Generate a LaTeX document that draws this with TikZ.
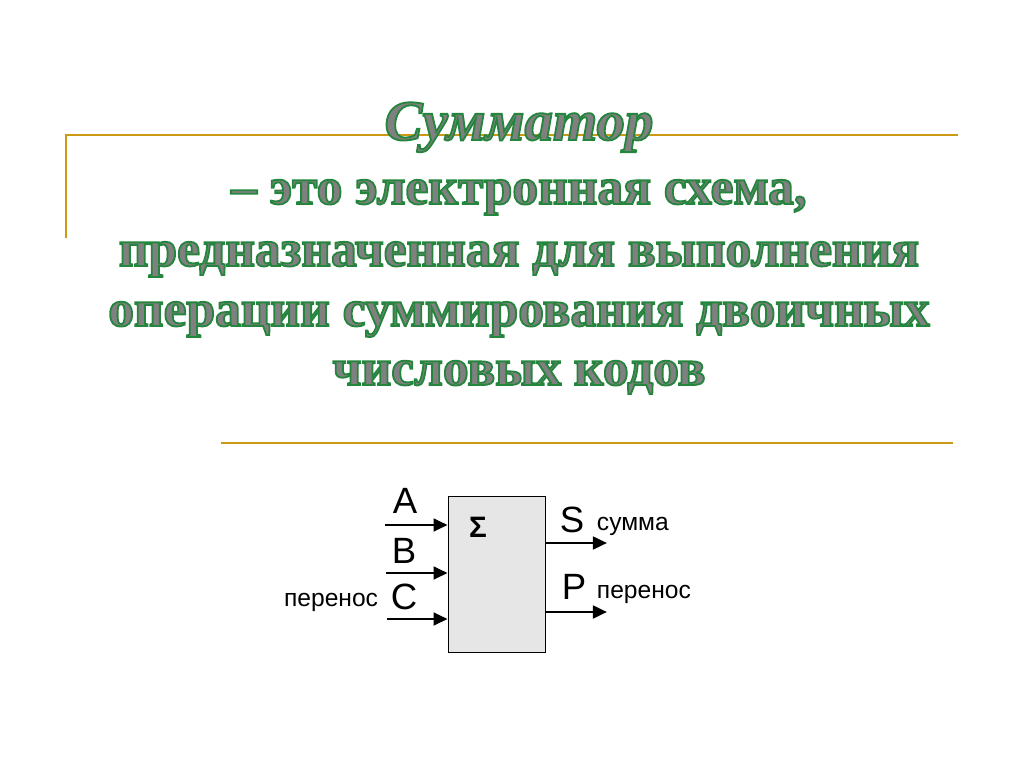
\documentclass[tikz,border=0pt]{standalone}
\usepackage{fontspec}
\setmainfont{Liberation Serif}
\newfontfamily\arialfont{Liberation Sans}
\usetikzlibrary{arrows.meta}
\definecolor{linegold}{RGB}{204,153,20}
\definecolor{textgray}{RGB}{128,128,128}
\definecolor{boxgray}{RGB}{230,230,230}
% gray letters with a green outline
\newcommand{\outlined}[1]{\special{pdf:literal direct 2 Tr 1.3 w 0.14 0.52 0.24 RG}#1\special{pdf:literal direct 0 Tr}}
\tikzset{>={Triangle[length=10pt,width=9pt]}}
\tikzset{
  headline/.style={anchor=base, text=textgray, font=\fontsize{36.6}{38}\selectfont\bfseries},
  pin/.style={line width=2pt, ->},
  letter/.style={anchor=base, font=\arialfont\fontsize{26}{28}\selectfont},
  small/.style={anchor=base, font=\arialfont\fontsize{17.5}{19}\selectfont}
}

\begin{document}
\begin{tikzpicture}[x=0.025cm, y=-0.025cm]
    \useasboundingbox (0,0) rectangle (1024,767);
    % gold rules
    \draw[linegold, line width=1.5pt] (66,238) -- (66,135) -- (958,135);
    \draw[linegold, line width=1.5pt] (221,443) -- (953,443);
    % title
    \node[anchor=base, text=textgray, font=\fontsize{40.5}{42}\selectfont\bfseries\itshape] (title) at (519,140) {\outlined{Сумматор}};
    \node[headline] (l1) at (519,204) {\outlined{– это электронная схема,}};
    \node[headline] (l2) at (519,266) {\outlined{предназначенная для выполнения}};
    \node[headline] (l3) at (519,326) {\outlined{операции суммирования двоичных}};
    \node[headline] (l4) at (519,385) {\outlined{числовых кодов}};
    % adder block
    \node[draw, fill=boxgray, line width=0.6pt, minimum width=97*0.025cm, minimum height=156*0.025cm, inner sep=0pt] (adder) at (496.5,574) {};
    \node[font=\arialfont\bfseries\fontsize{21}{22}\selectfont] (sigma) at (478,527) {Σ};
    \coordinate (inA) at (385,525);
    \coordinate (inB) at (386,573);
    \coordinate (inC) at (387,619);
    \coordinate (outS) at (607,543);
    \coordinate (outP) at (607,612);
    \draw[pin] (inA) -- (inA -| adder.west);
    \draw[pin] (inB) -- (inB -| adder.west);
    \draw[pin] (inC) -- (inC -| adder.west);
    \draw[pin] (outS -| adder.east) -- (outS);
    \draw[pin] (outP -| adder.east) -- (outP);
    \node[letter] (labA) at (405,513) {A};
    \node[letter] (labB) at (404,563) {B};
    \node[letter] (labC) at (404,609) {C};
    \node[small, anchor=base east] (carryin) at (383,606) {перенос};
    \node[letter] (labS) at (572,532) {S};
    \node[small, anchor=base west] (sum) at (592,530) {сумма};
    \node[letter] (labP) at (574,599) {P};
    \node[small, anchor=base west] (carryout) at (592,598) {перенос};
\end{tikzpicture}
\end{document}
